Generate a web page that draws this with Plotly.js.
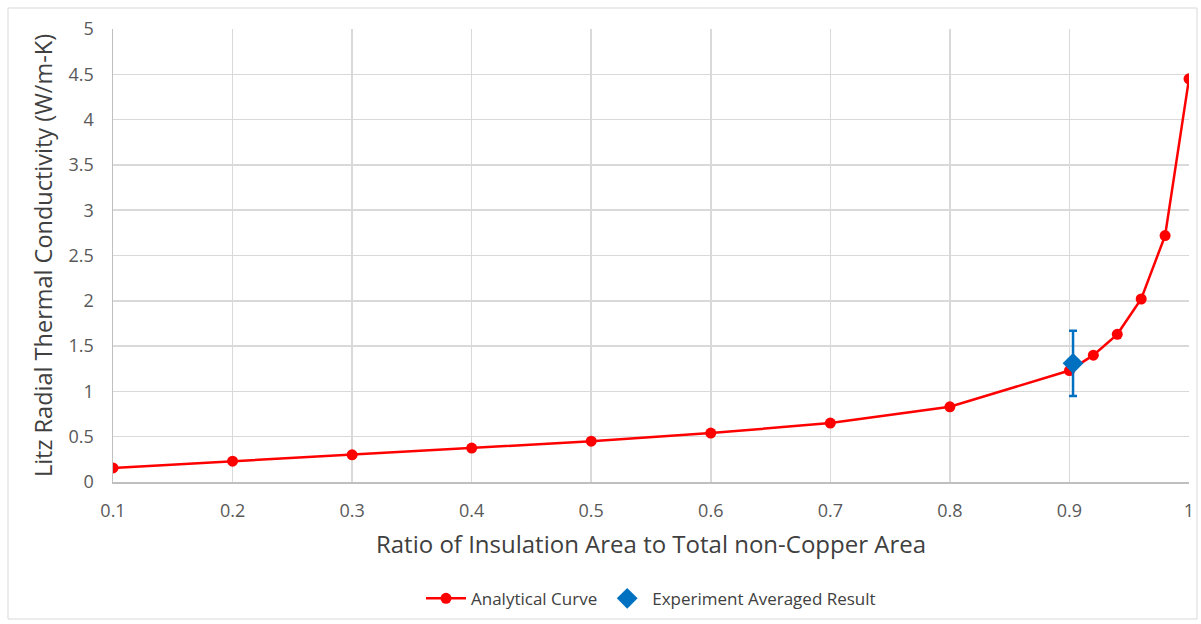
<!DOCTYPE html>
<html><head><meta charset="utf-8">
<script src="https://cdn.plot.ly/plotly-3.0.1.min.js"></script>
<style>html,body{margin:0;padding:0;background:#fff;}#chart{width:1201px;height:624px;}</style>
</head><body><div id="chart"></div>
<script>
const ratio = [0.1, 0.2, 0.3, 0.4, 0.5, 0.6, 0.7, 0.8, 0.9, 0.92, 0.94, 0.96, 0.98, 1.0];
const conductivity = [0.155, 0.23, 0.30, 0.375, 0.45, 0.54, 0.65, 0.83, 1.23, 1.40, 1.63, 2.02, 2.72, 4.45];
const expRatio = [0.903];
const expConductivity = [1.31];
const expError = [0.36];

const font = "'Open Sans', sans-serif";
const traces = [
  {x: ratio, y: conductivity, type: 'scatter', mode: 'lines+markers', name: 'Analytical Curve',
   line: {color: '#FF0000', width: 2.5}, marker: {color: '#FF0000', size: 11, symbol: 'circle'}},
  {x: expRatio, y: expConductivity, type: 'scatter', mode: 'markers', name: 'Experiment Averaged Result',
   marker: {color: '#0070C0', size: 16, symbol: 'diamond'},
   error_y: {type: 'data', array: expError, visible: true, color: '#0070C0', thickness: 2.5, width: 4}}
];
const layout = {
  width: 1201, height: 624,
  margin: {l: 113, r: 12, t: 29, b: 142, autoexpand: false},
  paper_bgcolor: '#fff', plot_bgcolor: '#fff',
  font: {family: font, color: '#595959', size: 18},
  showlegend: true,
  legend: {orientation: 'h', x: 0.5, xanchor: 'center', y: -0.218, yanchor: 'top',
           bgcolor: 'rgba(0,0,0,0)',
           font: {family: font, size: 17, color: '#404040'}, itemwidth: 40, tracegroupgap: 0},
  xaxis: {range: [0.1, 1.0], dtick: 0.1, tick0: 0.1, showgrid: true, gridcolor: '#d9d9d9', gridwidth: 1.5,
          showline: true, linecolor: '#bfbfbf', linewidth: 1.5, zeroline: false, ticks: '',
          tickfont: {size: 18, color: '#595959'}, ticklabelstandoff: 12,
          title: {text: 'Ratio of Insulation Area to Total non-Copper Area', font: {size: 24, color: '#404040'}, standoff: 15}},
  yaxis: {range: [0, 5], dtick: 0.5, showgrid: true, gridcolor: '#d9d9d9', gridwidth: 1.5,
          showline: true, linecolor: '#bfbfbf', linewidth: 1.5, zeroline: false, ticks: '',
          tickfont: {size: 18, color: '#595959'}, ticklabelstandoff: 14,
          title: {text: 'Litz Radial Thermal Conductivity (W/m-K)', font: {size: 23.5, color: '#404040'}, standoff: 9}},
  shapes: [{type: 'rect', xref: 'paper', yref: 'paper',
            x0: (8 - 113) / 1076, x1: (1197 - 113) / 1076,
            y0: (624 - 142 - 619) / 453, y1: (624 - 142 - 8) / 453,
            line: {color: '#d9d9d9', width: 1}, fillcolor: 'rgba(0,0,0,0)', layer: 'below'}]
};
Plotly.newPlot('chart', traces, layout, {displayModeBar: false, staticPlot: true});
</script></body></html>
